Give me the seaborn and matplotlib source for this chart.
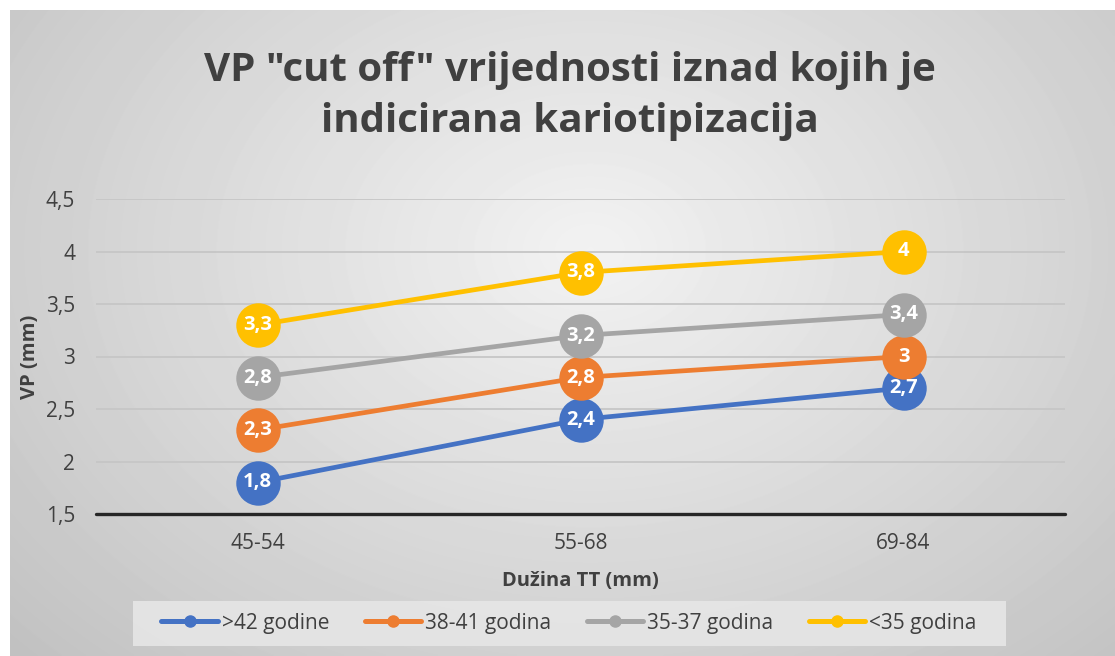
import numpy as np
import pandas as pd
import matplotlib
matplotlib.use("Agg")
import matplotlib.pyplot as plt
from matplotlib.patches import Rectangle
import seaborn as sns

# data
categories = ["45-54", "55-68", "69-84"]
groups = [">42 godine", "38-41 godina", "35-37 godina", "<35 godina"]
vals_42 = [1.8, 2.4, 2.7]
vals_38 = [2.3, 2.8, 3.0]
vals_35 = [2.8, 3.2, 3.4]
vals_lt35 = [3.3, 3.8, 4.0]
y_ticks = [1.5, 2, 2.5, 3, 3.5, 4, 4.5]
colors = ["#4472C4", "#ED7D31", "#A5A5A5", "#FFC000"]

rows = []
for g, vals in zip(groups, [vals_42, vals_38, vals_35, vals_lt35]):
    for i, (c, v) in enumerate(zip(categories, vals)):
        rows.append({"kat": c, "x": i, "grupa": g, "vp": v})
df = pd.DataFrame(rows)

sns.set_theme(style="white")
plt.rcParams["font.family"] = ["Open Sans", "DejaVu Sans"]

W, H = 1115, 656
fig = plt.figure(figsize=(W / 100, H / 100), dpi=100)

# radial gradient background like the office chart style
bg = fig.add_axes([10 / W, 0, 1 - 10 / W, 1 - 10 / H], zorder=-5)
yy, xx = np.mgrid[0:646, 0:1105]
d = np.sqrt(((xx - 580) / 700.0) ** 2 + ((yy - 240) / 520.0) ** 2)
shade = 0.95 - 0.17 * np.clip(d, 0, 1.2)
bg.imshow(shade, cmap="gray", vmin=0, vmax=1, aspect="auto", interpolation="bilinear")
bg.set_axis_off()

ax = fig.add_axes([96 / W, (H - 514) / H, 969 / W, 315 / H])
ax.set_facecolor("none")

sns.lineplot(data=df, x="x", y="vp", hue="grupa", hue_order=groups,
             palette=colors, marker="o", markersize=32, linewidth=3.4,
             markeredgewidth=0, ax=ax, legend=False, zorder=3)

for g, col in zip(groups, colors):
    sub = df[df["grupa"] == g]
    for _, r in sub.iterrows():
        lab = f"{r['vp']:g}".replace(".", ",")
        ax.text(r["x"], r["vp"], lab, ha="center", va="center", color="white",
                fontsize=14.5, fontweight="bold", zorder=5)

ax.set_xlim(-0.5, 2.5)
ax.set_ylim(1.5, 4.5)
ax.set_xticks(range(len(categories)))
ax.set_xticklabels(categories)
ax.set_yticks(y_ticks)
ax.set_yticklabels([f"{t:g}".replace(".", ",") for t in y_ticks])
ax.tick_params(axis="both", length=0, labelsize=15, labelcolor="#404040")
ax.tick_params(axis="y", pad=15)
ax.tick_params(axis="x", pad=14)
for t in y_ticks[1:]:
    ax.axhline(t, color="#c6c6c6", linewidth=1.3, zorder=1)
ax.axhline(1.5, color="#262626", linewidth=2.4, zorder=2, clip_on=False)
for s in ax.spines.values():
    s.set_visible(False)

ax.set_xlabel("Dužina TT (mm)", fontsize=14.5, fontweight="bold", color="#404040", labelpad=12)
ax.set_ylabel("VP (mm)", fontsize=14.5, fontweight="bold", color="#404040", labelpad=4)

fig.text(570 / W, 1 - 96 / H, 'VP "cut off" vrijednosti iznad kojih je\nindicirana kariotipizacija',
         ha="center", va="center", fontsize=29, fontweight="bold", color="#404040",
         linespacing=1.4)

# legend box (light panel behind the entries)
fig.patches.append(Rectangle((133 / W, 1 - 646 / H), 873 / W, 45 / H, transform=fig.transFigure,
                             facecolor="#e6e6e6", edgecolor="none", alpha=0.9, zorder=-1))
handles = [plt.Line2D([], [], color=c, linewidth=3.6, marker="o", markersize=8) for c in colors]
leg = fig.legend(handles, groups, loc="center", bbox_to_anchor=(569 / W, 1 - 623 / H),
                 ncol=4, frameon=False, fontsize=15, handlelength=2.7, handletextpad=0.2,
                 columnspacing=1.7)
for t in leg.get_texts():
    t.set_color("#404040")

fig.savefig("out.png", dpi=100)
